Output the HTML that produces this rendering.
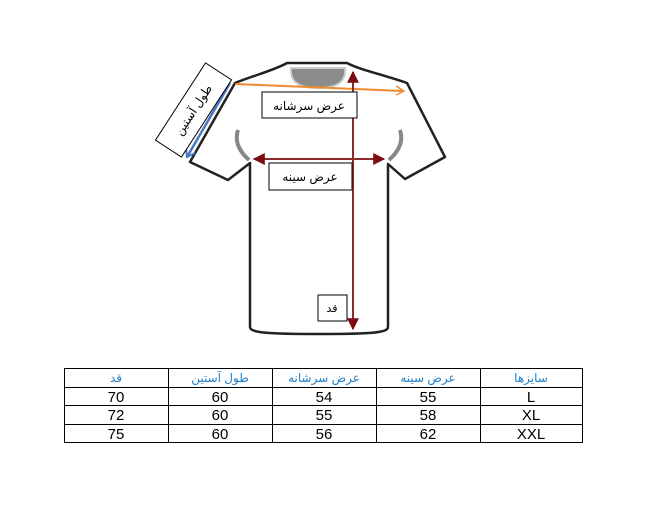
<!DOCTYPE html>
<html><head><meta charset="utf-8"><style>
body{margin:0;background:#fff;width:661px;height:509px;overflow:hidden}
svg{position:absolute;left:0;top:0}
text{font-family:"Liberation Sans","DejaVu Sans",sans-serif}
</style></head><body>
<svg width="661" height="509" viewBox="0 0 661 509">
<defs>
<marker id="ar" viewBox="0 0 10 10" refX="9" refY="5" markerWidth="6" markerHeight="6" orient="auto-start-reverse"><path d="M0,0 L10,5 L0,10 z" fill="#7a0c12"/></marker>
</defs>
<path d="M235,83 C255,75 275,70 287,63 L347,63 C360,70 385,75 407,83 L445,157 L405,179 L388,164 L388,327 C388,333 370,334 318,334 C270,334 250,333 250,327 L250,163 L228,180 L190,162 Z" fill="#fff" stroke="#222" stroke-width="2.5" stroke-linejoin="round"/>
<path d="M291,68 L345,68 C346,80 340,88 318,88 C296,88 290,80 291,68 Z" fill="#8c8c8c" stroke="#ccc" stroke-width="2"/>
<path d="M238,130 C234,142 240,152 249,160" fill="none" stroke="#888" stroke-width="4"/>
<path d="M400,130 C404,142 398,152 389,160" fill="none" stroke="#888" stroke-width="4"/>
<line x1="235" y1="84" x2="403" y2="91" stroke="#f08a30" stroke-width="2"/>
<path d="M396,86 L404,91 L396,95" fill="none" stroke="#f08a30" stroke-width="1.5"/>
<line x1="230" y1="83" x2="187" y2="157" stroke="#4a78c8" stroke-width="2.5"/>
<path d="M186,148 L187,157 L195,153" fill="none" stroke="#4a78c8" stroke-width="2"/>
<line x1="353" y1="72" x2="353" y2="329" stroke="#8a2a2a" stroke-width="2" marker-start="url(#ar)" marker-end="url(#ar)"/>
<line x1="254" y1="159" x2="384" y2="159" stroke="#8a2a2a" stroke-width="2" marker-start="url(#ar)" marker-end="url(#ar)"/>
<rect x="262" y="92" width="95" height="26" fill="#fff" stroke="#000"/>
<text x="309" y="110" font-size="12" text-anchor="middle" font-family="DejaVu Sans">عرض سرشانه</text>
<rect x="269" y="163" width="83" height="27" fill="#fff" stroke="#000"/>
<text x="310" y="181" font-size="12" text-anchor="middle" font-family="DejaVu Sans">عرض سینه</text>
<rect x="318" y="295" width="29" height="26" fill="#fff" stroke="#000"/>
<text x="332" y="312" font-size="11" text-anchor="middle" font-family="DejaVu Sans">قد</text>
<g transform="translate(193.5,110) rotate(-57)">
<rect x="-46" y="-15.5" width="92" height="31" fill="#fff" stroke="#000"/>
<text x="0" y="4" font-size="12" text-anchor="middle" font-family="DejaVu Sans">طول آستین</text>
</g>
<g stroke="#000" stroke-width="1" fill="none">
<rect x="64.5" y="368.5" width="518" height="74"/>
<line x1="64" y1="387.5" x2="583" y2="387.5"/>
<line x1="64" y1="405.5" x2="583" y2="405.5"/>
<line x1="64" y1="424.5" x2="583" y2="424.5"/>
<line x1="168.5" y1="368" x2="168.5" y2="443"/>
<line x1="272.5" y1="368" x2="272.5" y2="443"/>
<line x1="376.5" y1="368" x2="376.5" y2="443"/>
<line x1="480.5" y1="368" x2="480.5" y2="443"/>
</g>
<g font-size="12" fill="#1f7fc8" text-anchor="middle" font-family="DejaVu Sans">
<text x="116" y="382">قد</text><text x="220" y="382">طول آستین</text><text x="324" y="382">عرض سرشانه</text><text x="428" y="382">عرض سینه</text><text x="531" y="382">سایزها</text>
</g>
<g font-size="15" fill="#000" text-anchor="middle">
<text x="116" y="402">70</text><text x="220" y="402">60</text><text x="324" y="402">54</text><text x="428" y="402">55</text><text x="531" y="402">L</text>
<text x="116" y="420">72</text><text x="220" y="420">60</text><text x="324" y="420">55</text><text x="428" y="420">58</text><text x="531" y="420">XL</text>
<text x="116" y="439">75</text><text x="220" y="439">60</text><text x="324" y="439">56</text><text x="428" y="439">62</text><text x="531" y="439">XXL</text>
</g>
</svg>
</body></html>
